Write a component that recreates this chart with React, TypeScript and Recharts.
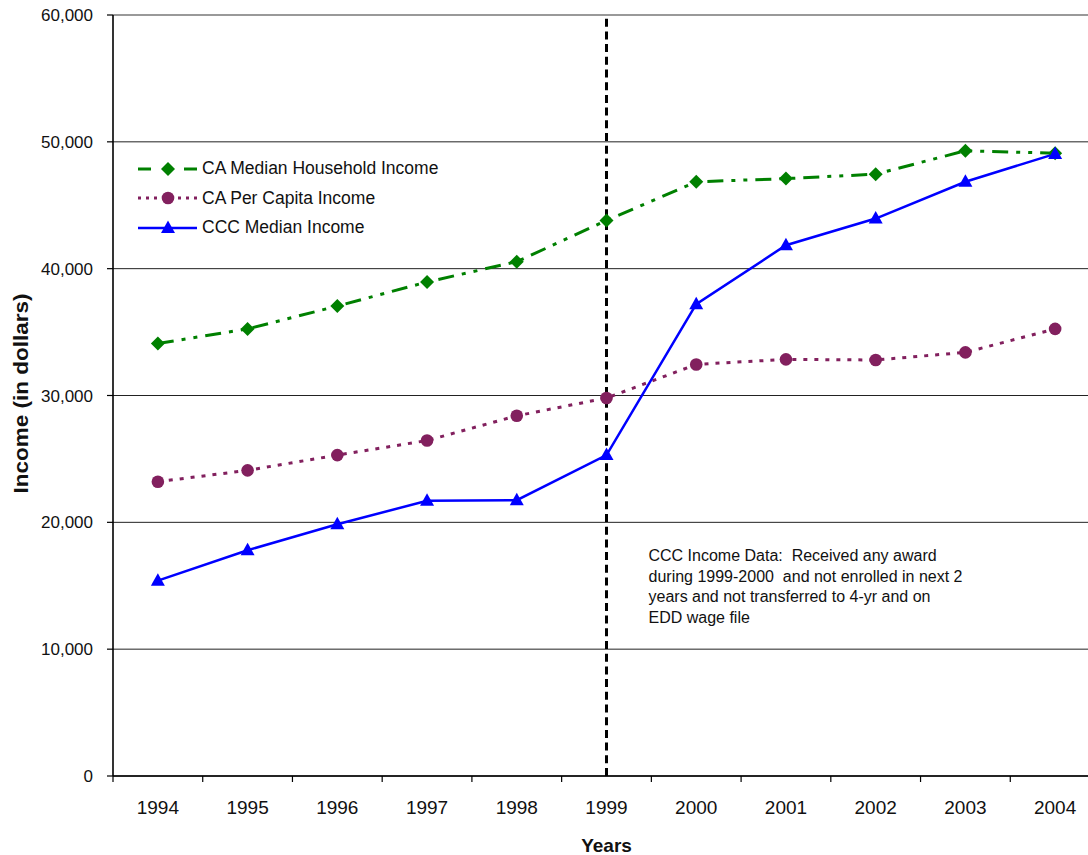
import React from 'react';
import {
  LineChart,
  Line,
  XAxis,
  YAxis,
  CartesianGrid,
  ReferenceLine,
  Legend,
} from 'recharts';

const YEARS = ['1994', '1995', '1996', '1997', '1998', '1999', '2000', '2001', '2002', '2003', '2004'];
const HOUSEHOLD = [34100, 35250, 37050, 38950, 40550, 43800, 46850, 47100, 47450, 49300, 49100];
const PER_CAPITA = [23200, 24100, 25300, 26450, 28400, 29800, 32450, 32850, 32800, 33400, 35250];
const CCC = [15400, 17800, 19850, 21700, 21750, 25300, 37200, 41850, 43950, 46850, 49050];
const Y_TICKS = [0, 10000, 20000, 30000, 40000, 50000, 60000];
const SPLIT_YEAR = '1999';
const NOTE_LINES = [
  'CCC Income Data:  Received any award',
  'during 1999-2000  and not enrolled in next 2',
  'years and not transferred to 4-yr and on',
  'EDD wage file',
];

const data = YEARS.map((year, i) => ({
  year,
  household: HOUSEHOLD[i],
  perCapita: PER_CAPITA[i],
  ccc: CCC[i],
}));

const FONT = 'Arial, "Liberation Sans", Helvetica, sans-serif';
const CHART_W = 1100;
const CHART_H = 855;
const Y_AXIS_W = 113;
const X_AXIS_H = 79;
const TOP = 15;
const BAND = (CHART_W - Y_AXIS_W) / YEARS.length;

const GREEN = '#008000';
const PLUM = '#82205E';
const BLUE = '#0000FF';

type Shape = 'diamond' | 'circle' | 'triangle';

const SERIES: { key: string; name: string; color: string; dash?: string; width: number; shape: Shape }[] = [
  { key: 'household', name: 'CA Median Household Income', color: GREEN, dash: '16 8 4 8 4 8', width: 3, shape: 'diamond' },
  { key: 'perCapita', name: 'CA Per Capita Income', color: PLUM, dash: '4 7', width: 3, shape: 'circle' },
  { key: 'ccc', name: 'CCC Median Income', color: BLUE, width: 2.5, shape: 'triangle' },
];

function Marker({ cx, cy, color, shape }: { cx: number; cy: number; color: string; shape: Shape }) {
  if (cx == null || cy == null || isNaN(cx) || isNaN(cy)) return null;
  if (shape === 'diamond') {
    return <path d={`M${cx},${cy - 7} L${cx + 7},${cy} L${cx},${cy + 7} L${cx - 7},${cy} Z`} fill={color} stroke="none" />;
  }
  if (shape === 'circle') {
    return <circle cx={cx} cy={cy} r={6.3} fill={color} stroke="none" />;
  }
  return <path d={`M${cx},${cy - 7.5} L${cx + 7},${cy + 5} L${cx - 7},${cy + 5} Z`} fill={color} stroke="none" />;
}

const XTick = (props: any) => {
  const { x, y, payload } = props;
  const left = x - BAND / 2;
  return (
    <g>
      <line x1={left} x2={left} y1={y} y2={y + 6} stroke="#000" strokeWidth={1.2} />
      <text x={x} y={y + 38} textAnchor="middle" fontSize={19} fill="#111" fontFamily={FONT}>
        {payload.value}
      </text>
    </g>
  );
};

const LegendContent = () => (
  <div style={{ fontFamily: FONT, fontSize: 17.5, color: '#111' }}>
    {SERIES.map((s) => (
      <div key={s.key} style={{ display: 'flex', alignItems: 'center', height: 29.5 }}>
        <svg width={60} height={20} style={{ display: 'block' }}>
          {s.shape === 'diamond' ? (
            <>
              <line x1={0} x2={13} y1={10} y2={10} stroke={s.color} strokeWidth={3} />
              <line x1={46} x2={59} y1={10} y2={10} stroke={s.color} strokeWidth={3} />
            </>
          ) : (
            <line x1={0} x2={59} y1={10} y2={10} stroke={s.color} strokeWidth={s.width} strokeDasharray={s.shape === 'circle' ? '3 5' : undefined} />
          )}
          <Marker cx={30} cy={10} color={s.color} shape={s.shape} />
        </svg>
        <span style={{ marginLeft: 4, whiteSpace: 'nowrap' }}>{s.name}</span>
      </div>
    ))}
  </div>
);

const YTitle = (props: any) => {
  const vb = props.viewBox || { x: 0, y: TOP, width: Y_AXIS_W, height: 761 };
  const cx = vb.x + 20;
  const cy = vb.y + vb.height / 2 - 2;
  return (
    <text
      x={cx}
      y={cy}
      transform={`rotate(-90, ${cx}, ${cy})`}
      textAnchor="middle"
      dominantBaseline="central"
      fontSize={21}
      fontWeight="bold"
      fill="#111"
      fontFamily={FONT}
      textLength={200}
      lengthAdjust="spacingAndGlyphs"
    >
      Income (in dollars)
    </text>
  );
};

const XTitle = (props: any) => {
  const vb = props.viewBox || { x: Y_AXIS_W, y: 776, width: CHART_W - Y_AXIS_W, height: X_AXIS_H };
  return (
    <text x={vb.x + vb.width / 2} y={vb.y + 76} textAnchor="middle" fontSize={19} fontWeight="bold" fill="#111" fontFamily={FONT}>
      Years
    </text>
  );
};

const NoteLabel = (props: any) => {
  const vb = props.viewBox || { x: 606 };
  const x = vb.x + 42;
  return (
    <text fontSize={16} fill="#111" fontFamily={FONT} style={{ whiteSpace: 'pre' }}>
      {NOTE_LINES.map((l, i) => (
        <tspan key={i} x={x} y={561 + i * 20.7}>
          {l}
        </tspan>
      ))}
    </text>
  );
};

export default function App() {
  return (
    <div style={{ position: 'absolute', left: 0, top: 0, width: 1088, height: 855, overflow: 'hidden', background: '#fff' }}>
      <LineChart
        width={CHART_W}
        height={CHART_H}
        data={data}
        margin={{ top: TOP, right: 0, bottom: 0, left: 0 }}
        style={{ fontFamily: FONT }}
      >
        <CartesianGrid vertical={false} stroke="#222" strokeWidth={1} />
        <XAxis
          dataKey="year"
          height={X_AXIS_H}
          padding={{ left: BAND / 2, right: BAND / 2 }}
          tick={<XTick />}
          tickLine={false}
          tickSize={0}
          tickMargin={0}
          axisLine={{ stroke: '#000', strokeWidth: 1.6 }}
          interval={0}
          label={{ content: <XTitle /> } as any}
        />
        <YAxis
          width={Y_AXIS_W}
          domain={[0, 60000]}
          ticks={Y_TICKS}
          interval={0}
          tickFormatter={(v: number) => v.toLocaleString('en-US')}
          tick={{ fontSize: 17, fill: '#111', fontFamily: FONT }}
          tickSize={6}
          tickMargin={14}
          tickLine={{ stroke: '#000', strokeWidth: 1.2 }}
          axisLine={{ stroke: '#000', strokeWidth: 1.6 }}
          label={{ content: <YTitle /> } as any}
        />
        <ReferenceLine y={60000} stroke="#999" strokeWidth={2} />
        <ReferenceLine
          x={SPLIT_YEAR}
          stroke="#000"
          strokeWidth={3}
          strokeDasharray="8 4.7"
          label={{ content: <NoteLabel /> } as any}
        />
        <Legend
          layout="vertical"
          align="center"
          verticalAlign="middle"
          content={<LegendContent />}
          wrapperStyle={{ left: 138, top: 154, width: 'auto', height: 'auto' }}
        />
        {SERIES.map((s) => (
          <Line
            key={s.key}
            dataKey={s.key}
            name={s.name}
            type="linear"
            stroke={s.color}
            strokeWidth={s.width}
            strokeDasharray={s.dash}
            isAnimationActive={false}
            dot={(p: any) => <Marker key={`${s.key}-${p.index}`} cx={p.cx} cy={p.cy} color={s.color} shape={s.shape} />}
            activeDot={false}
          />
        ))}
      </LineChart>
    </div>
  );
}
